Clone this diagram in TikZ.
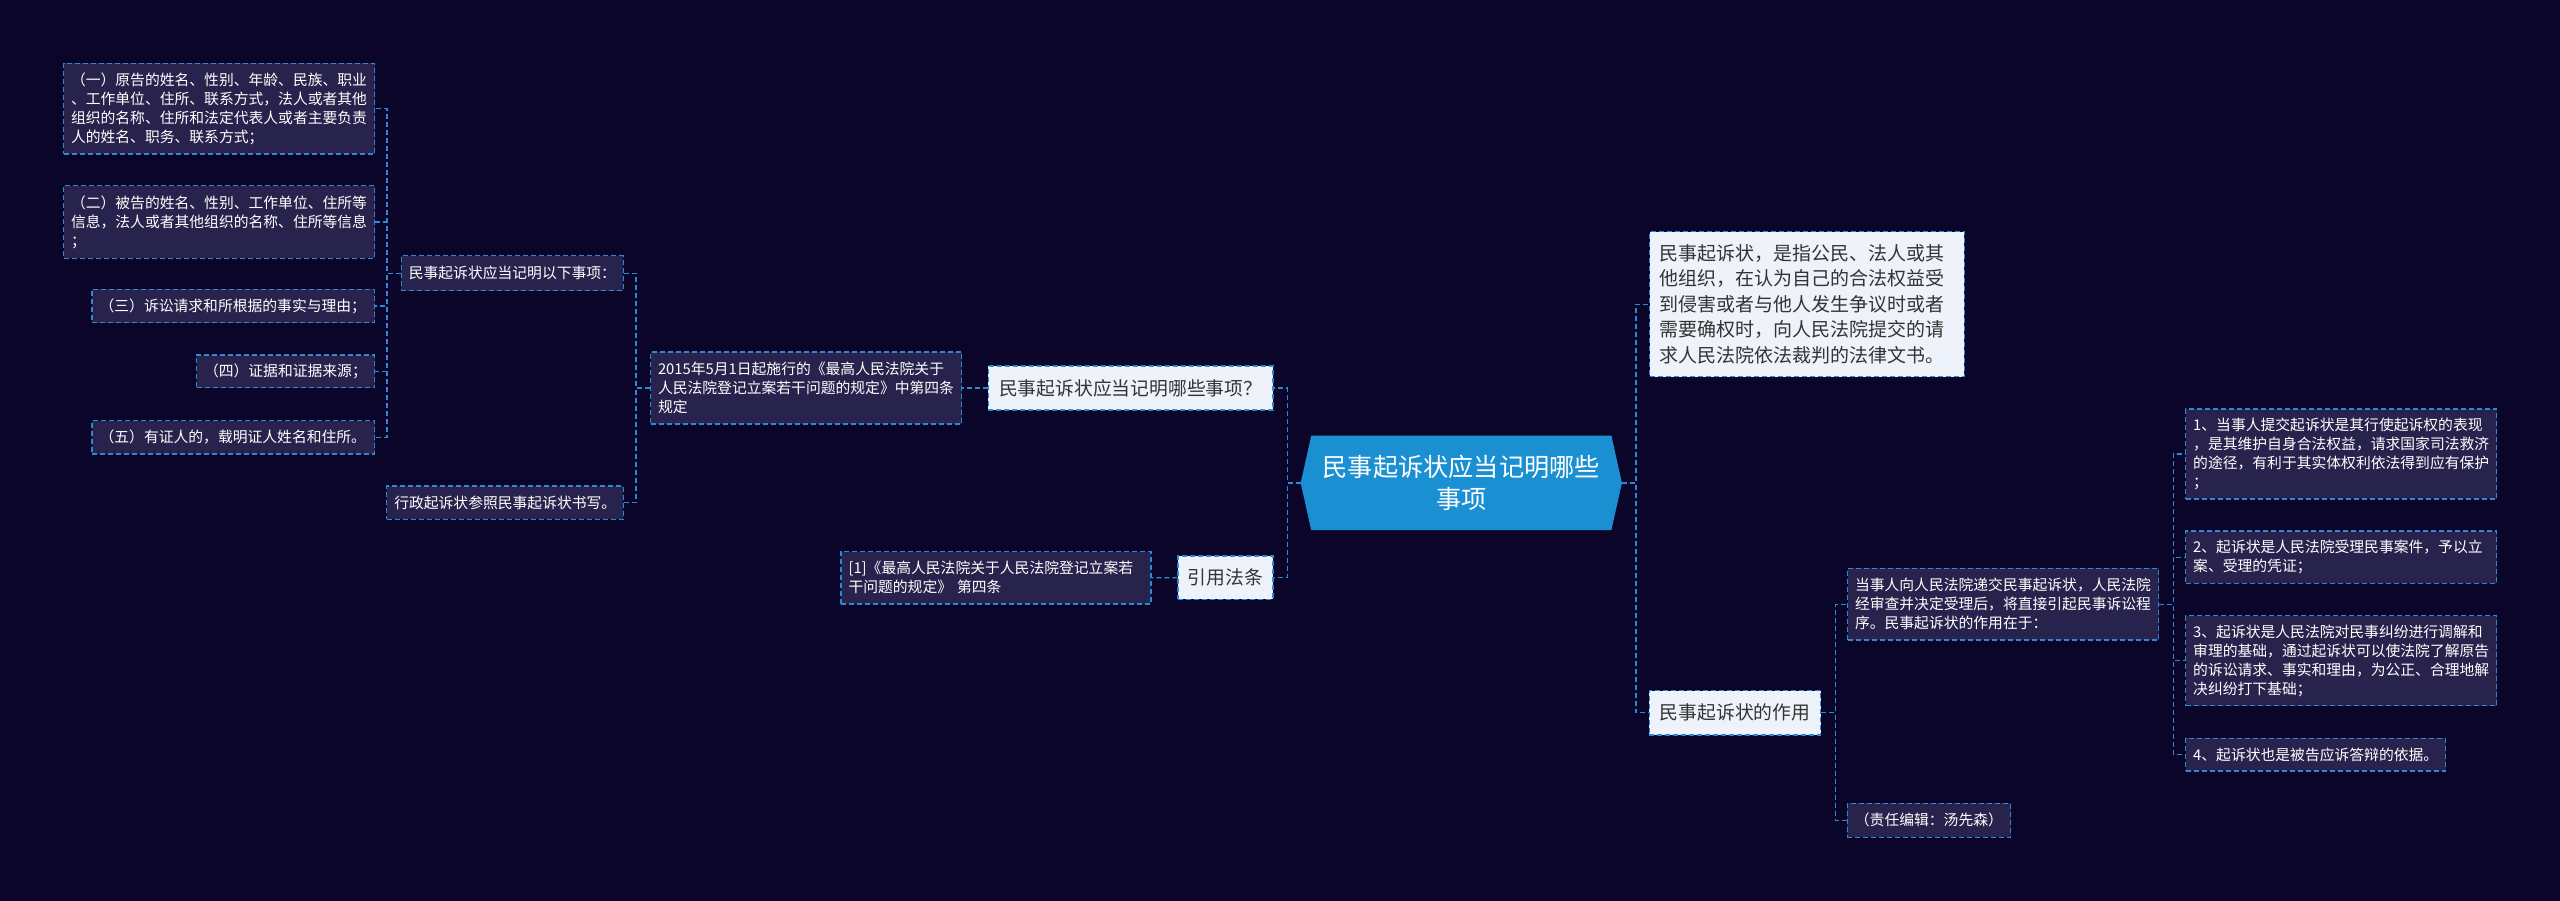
\documentclass[tikz,border=0pt]{standalone}
\usepackage{fontspec}
\setmainfont{Noto Sans CJK SC}
\definecolor{bgc}{HTML}{0B0629}
\definecolor{darkbox}{HTML}{27234C}
\definecolor{lineblue}{HTML}{2B8AD3}
\definecolor{lightbox}{HTML}{EEF3FB}
\definecolor{textdark}{HTML}{333333}
\definecolor{hexblue}{HTML}{1A90D2}
\begin{document}
\begin{tikzpicture}[x=1pt,y=-1pt,
  dbox/.style={rectangle, draw=lineblue, line width=1.3pt, dash pattern=on 5pt off 3pt,
    fill=darkbox, text=white, font=\fontsize{14.8}{18.9}\selectfont, align=left,
    inner xsep=7.5pt, inner ysep=0pt},
  lbox/.style={rectangle, draw=lineblue, line width=1.3pt, dash pattern=on 5pt off 3pt,
    fill=lightbox, text=textdark, font=\fontsize{18.8}{25.5}\selectfont, inner sep=0pt},
  conn/.style={draw=lineblue, line width=1.3pt, dash pattern=on 5pt off 3pt},
  cbox/.style={rectangle, inner sep=0pt, text=white, align=center,
    font=\fontsize{25.2}{32}\selectfont}]
\useasboundingbox (0,0) rectangle (2560,901);
\fill[bgc] (0,0) rectangle (2560,901);

% left branch
\node[dbox, text width=296pt, minimum height=90.7pt] (b1) at (219,108.7)
 {（一）原告的姓名、性别、年龄、民族、职业\\、工作单位、住所、联系方式，法人或者其他\\组织的名称、住所和法定代表人或者主要负责\\人的姓名、职务、联系方式；};
\node[dbox, text width=296pt, minimum height=72.6pt] (b2) at (219,222)
 {（二）被告的姓名、性别、工作单位、住所等\\信息，法人或者其他组织的名称、住所等信息\\；};
\node[dbox, text width=267.4pt, minimum height=33.4pt] (b3) at (233.3,306) {（三）诉讼请求和所根据的事实与理由；};
\node[dbox, text width=163pt, minimum height=32.7pt] (b4) at (285.5,371.3) {（四）证据和证据来源；};
\node[dbox, text width=267.4pt, minimum height=33.3pt] (b5) at (233.3,437.3) {（五）有证人的，载明证人姓名和住所。};
\node[dbox, text width=207pt, minimum height=35pt] (m1) at (512.3,273.2) {民事起诉状应当记明以下事项：};
\node[dbox, text width=221.5pt, minimum height=33.3pt] (m2) at (505,502.7) {行政起诉状参照民事起诉状书写。};
\node[dbox, text width=296pt, minimum height=72pt] (law) at (806,388)
 {2015年5月1日起施行的《最高人民法院关于\\人民法院登记立案若干问题的规定》中第四条\\规定};
\node[lbox, minimum width=284.7pt, minimum height=44pt] (q1) at (1130.7,388) {民事起诉状应当记明哪些事项？};
\node[dbox, text width=295pt, minimum height=52.3pt] (ref) at (996,577.8)
 {[1]《最高人民法院关于人民法院登记立案若\\干问题的规定》 第四条};
\node[lbox, minimum width=95pt, minimum height=43.3pt] (q2) at (1225.5,577.7) {引用法条};

% center
\coordinate (cc) at (1461.3,482.9);
\fill[hexblue] ([shift={(-160.6,0)}]cc) -- ([shift={(-150.1,-47.2)}]cc) -- ([shift={(150.1,-47.2)}]cc)
  -- ([shift={(160.6,0)}]cc) -- ([shift={(150.1,47.2)}]cc) -- ([shift={(-150.1,47.2)}]cc) -- cycle;
\node[cbox, minimum width=321.2pt, minimum height=94.4pt] (c) at (cc) {民事起诉状应当记明哪些\\事项};

% right branch
\node[lbox, align=left, text width=294.5pt, inner xsep=10pt, minimum height=145pt,
  font=\fontsize{19}{25.5}\selectfont] (def) at (1807,304.2)
 {民事起诉状，是指公民、法人或其\\他组织，在认为自己的合法权益受\\到侵害或者与他人发生争议时或者\\需要确权时，向人民法院提交的请\\求人民法院依法裁判的法律文书。};
\node[lbox, minimum width=171.4pt, minimum height=44.3pt] (q3) at (1735,712.8) {民事起诉状的作用};
\node[dbox, text width=296pt, minimum height=71.7pt] (p1) at (2003,604.2)
 {当事人向人民法院递交民事起诉状，人民法院\\经审查并决定受理后，将直接引起民事诉讼程\\序。民事起诉状的作用在于：};
\node[dbox, text width=148.2pt, minimum height=34pt] (ed) at (1929,820.3) {（责任编辑：汤先森）};
\node[dbox, text width=296pt, minimum height=90pt] (i1) at (2341.2,454)
 {1、当事人提交起诉状是其行使起诉权的表现\\，是其维护自身合法权益，请求国家司法救济\\的途径，有利于其实体权利依法得到应有保护\\；};
\node[dbox, text width=296pt, minimum height=52.3pt] (i2) at (2341.2,557.2)
 {2、起诉状是人民法院受理民事案件，予以立\\案、受理的凭证；};
\node[dbox, text width=296pt, minimum height=90pt] (i3) at (2341.2,660.7)
 {3、起诉状是人民法院对民事纠纷进行调解和\\审理的基础，通过起诉状可以使法院了解原告\\的诉讼请求、事实和理由，为公正、合理地解\\决纠纷打下基础；};
\node[dbox, text width=245pt, minimum height=32.7pt] (i4) at (2315.7,754.7) {4、起诉状也是被告应诉答辩的依据。};

% connectors
\coordinate (bm1) at ([xshift=-13.8pt]m1.west);
\foreach \n in {b1,b2,b3,b4,b5} \draw[conn] (m1.west) -- (bm1) |- (\n.east);
\coordinate (blaw) at ([xshift=-14pt]law.west);
\foreach \n in {m1,m2} \draw[conn] (law.west) -- (blaw) |- (\n.east);
\draw[conn] (q1.west) -- (law.east);
\draw[conn] (q2.west) -- (ref.east);
\coordinate (bcl) at ([xshift=-13.3pt]c.west);
\foreach \n in {q1,q2} \draw[conn] (c.west) -- (bcl) |- (\n.east);
\coordinate (bcr) at ([xshift=13.9pt]c.east);
\foreach \n in {def,q3} \draw[conn] (c.east) -- (bcr) |- (\n.west);
\coordinate (bq3) at ([xshift=13.9pt]q3.east);
\foreach \n in {p1,ed} \draw[conn] (q3.east) -- (bq3) |- (\n.west);
\coordinate (bp1) at ([xshift=14.2pt]p1.east);
\foreach \n in {i1,i2,i3,i4} \draw[conn] (p1.east) -- (bp1) |- (\n.west);
\end{tikzpicture}
\end{document}
